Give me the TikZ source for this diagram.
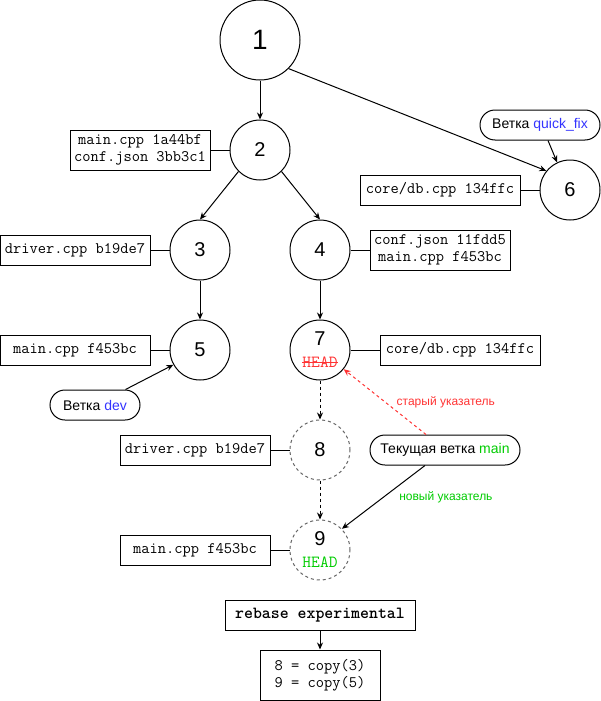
\documentclass[tikz,border=0pt]{standalone}
\usepackage{fontspec}
\setmainfont{Liberation Sans}
\usetikzlibrary{arrows.meta}
\tikzset{>={Stealth[length=7pt,width=6pt]}}
\definecolor{branchblue}{HTML}{3333FF}
\definecolor{headgreen}{HTML}{00CC00}
\definecolor{headred}{HTML}{FF3333}
\definecolor{ghost}{HTML}{666666}
\tikzset{
  commit/.style={draw, circle, line width=1pt, minimum size=60pt, inner sep=0pt,
    font=\fontsize{20}{22}\selectfont},
  ghostcommit/.style={commit, draw=ghost, dashed},
  filebox/.style={draw, line width=1pt, inner sep=0pt, align=center,
    font=\ttfamily\fontsize{16}{17}\selectfont},
  branch/.style={draw, line width=1pt, rounded corners=15pt, inner sep=0pt,
    minimum height=30pt, font=\fontsize{14}{16}\selectfont},
  headtag/.style={inner sep=0pt, font=\ttfamily\fontsize{17}{17}\selectfont},
  ptrlabel/.style={font=\fontsize{12}{14}\selectfont},
  link/.style={line width=1pt},
}

\begin{document}
\begin{tikzpicture}[x=1pt, y=-1pt]
  \useasboundingbox (0,0) rectangle (601,701);
  % commits
  \node[commit, minimum size=80pt, font=\fontsize{28}{30}\selectfont] (c1) at (260,40) {1};
  \node[commit] (c2) at (260,150) {2};
  \node[commit] (c3) at (200,250) {3};
  \node[commit] (c4) at (320,250) {4};
  \node[commit] (c5) at (200,350) {5};
  \node[commit] (c6) at (570,190) {6};
  \node[commit] (c7) at (320,350) {};
  \node[ghostcommit] (c8) at (320,450) {8};
  \node[ghostcommit] (c9) at (320,550) {};
  % commit texts with HEAD
  \node[font=\fontsize{20}{22}\selectfont] (n7) at (320,339) {7};
  \node[headtag, text=headred] (h7) at (320,362) {HEAD};
  \draw[headred, line width=0.8pt] (h7.west) -- (h7.east);
  \node[font=\fontsize{20}{22}\selectfont] (n9) at (320,539) {9};
  \node[headtag, text=headgreen] (h9) at (320,562) {HEAD};
  % files
  \node[filebox, minimum width=140pt, minimum height=40pt] (f2) at (140,150) {main.cpp 1a44bf\\conf.json 3bb3c1};
  \node[filebox, minimum width=160pt, minimum height=30pt] (f6) at (440,190) {core/db.cpp 134ffc};
  \node[filebox, minimum width=150pt, minimum height=30pt] (f3) at (75,250) {driver.cpp b19de7};
  \node[filebox, minimum width=140pt, minimum height=40pt] (f4) at (440,250) {conf.json 11fdd5\\main.cpp f453bc};
  \node[filebox, minimum width=150pt, minimum height=30pt] (f5) at (75,350) {main.cpp f453bc};
  \node[filebox, minimum width=160pt, minimum height=30pt] (f7) at (460,350) {core/db.cpp 134ffc};
  \node[filebox, minimum width=150pt, minimum height=30pt] (f8) at (195,450) {driver.cpp b19de7};
  \node[filebox, minimum width=150pt, minimum height=30pt] (f9) at (195,550) {main.cpp f453bc};
  % branches
  \node[branch, minimum width=120pt] (quickfix) at (540,125) {Ветка \textcolor{branchblue}{quick\_fix}};
  \node[branch, minimum width=90pt] (dev) at (95,405) {Ветка \textcolor{branchblue}{dev}};
  \node[branch, minimum width=150pt] (cur) at (445,450) {Текущая ветка \textcolor{headgreen}{main}};
  % rebase
  \node[filebox, minimum width=190pt, minimum height=30pt, font=\ttfamily\bfseries\fontsize{17}{17}\selectfont] (rb) at (320,615) {rebase experimental};
  \node[filebox, minimum width=120pt, minimum height=50pt, align=left] (cp) at (320,675) {8 = copy(3)\\9 = copy(5)};
  % history
  \draw[link, ->] (c1) -- (c2);
  \draw[link, ->] (c1.-45) -- (c6.141);
  \draw[link, ->] (c2.-135) -- (c3.north);
  \draw[link, ->] (c2.-45) -- (c4.north);
  \draw[link, ->] (c3) -- (c5);
  \draw[link, ->] (c4) -- (c7);
  \draw[link, ->, dashed] (c7) -- (c8);
  \draw[link, ->, dashed] (c8) -- (c9);
  \draw[link, ->] (rb) -- (cp);
  % file links
  \draw[link] (f2) -- (c2);
  \draw[link] (f6) -- (c6);
  \draw[link] (f3) -- (c3);
  \draw[link] (f4) -- (c4);
  \draw[link] (f5) -- (c5);
  \draw[link] (f7) -- (c7);
  \draw[link] (f8) -- (c8);
  \draw[link] (f9) -- (c9);
  % pointers
  \draw[link, ->] ([xshift=8pt]quickfix.south) -- (c6.115);
  \draw[link, ->] ([xshift=-15pt]dev.north east) -- (c5.209);
  \draw[link, ->, dashed, headred] ([xshift=-19pt]cur.north) -- (c7.-39)
    node[ptrlabel, pos=0.5, right=8pt] (old) {старый указатель};
  \draw[link, ->] ([xshift=-20pt]cur.south) -- (c9.44)
    node[ptrlabel, text=headgreen, pos=0.5, right=12pt] (new) {новый указатель};
\end{tikzpicture}
\end{document}
